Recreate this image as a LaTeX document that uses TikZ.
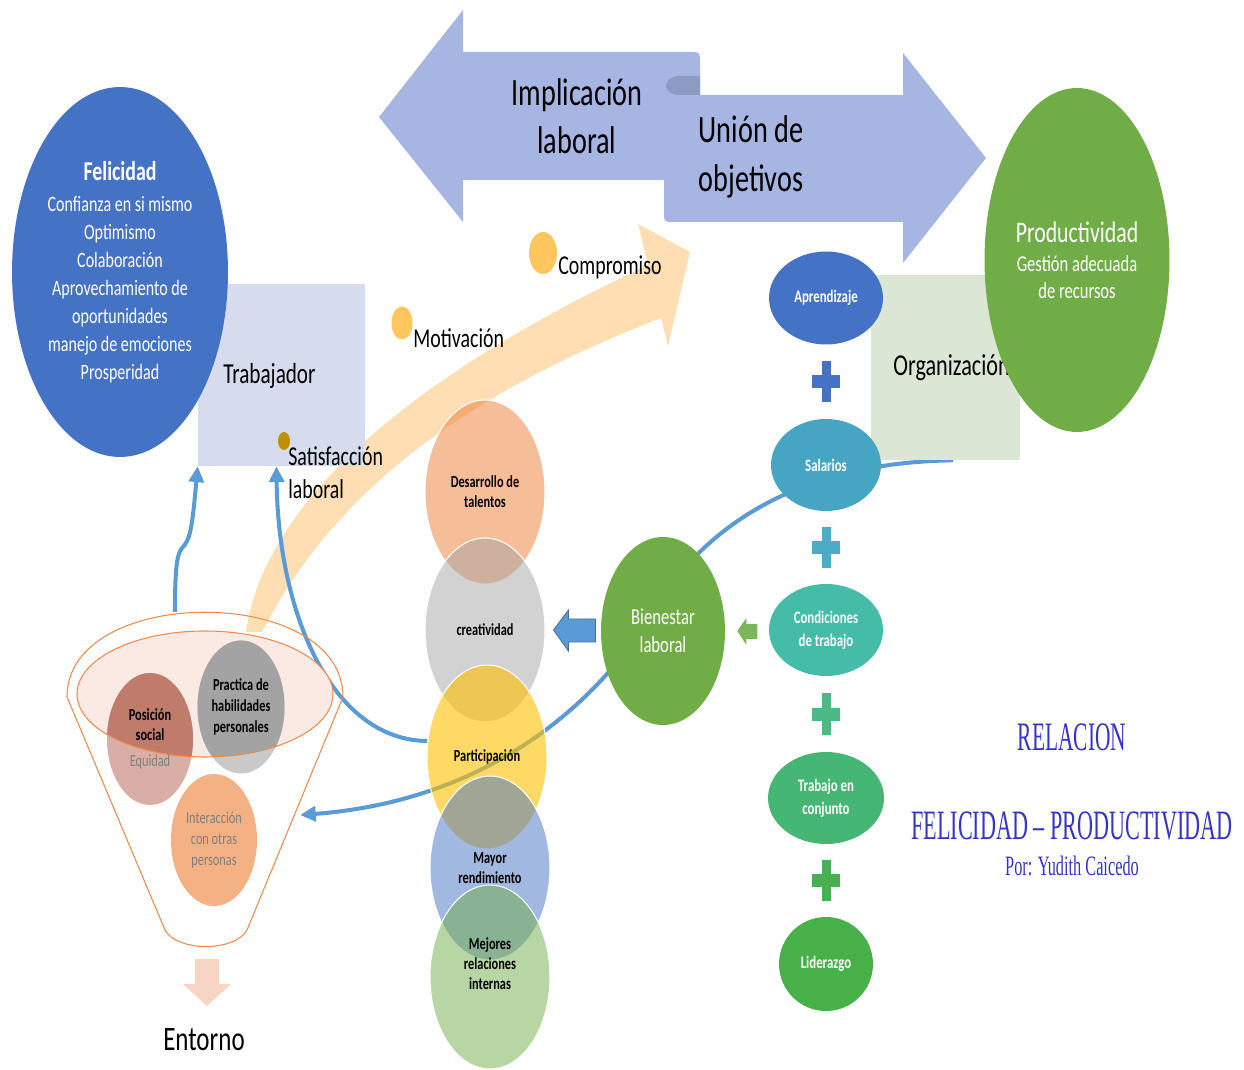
\documentclass[tikz,border=0pt]{standalone}
\usepackage{fontspec}
\setmainfont{Carlito}[FakeStretch=0.73]
\newfontfamily\titlefont{Liberation Serif}[FakeStretch=0.53]
\newfontfamily\porfont{Liberation Serif}[FakeStretch=0.58]
\usetikzlibrary{shapes.geometric,arrows.meta,calc,backgrounds}

\definecolor{arrowBlue}{HTML}{A6B5E1}
\definecolor{curlBlue}{HTML}{8C9AC4}
\definecolor{feliBlue}{HTML}{4472C4}
\definecolor{trabBox}{HTML}{D6DBED}
\definecolor{orgaBox}{HTML}{DCE6D5}
\definecolor{prodGreen}{HTML}{70AD47}
\definecolor{bandPeach}{HTML}{FEDEB2}
\definecolor{dotOrange}{HTML}{FFC65E}
\definecolor{dotGold}{HTML}{BF9000}
\definecolor{lineBlue}{HTML}{5B9BD5}
\definecolor{lineBlueDark}{HTML}{41719C}
\definecolor{funnelOrange}{HTML}{F08A4B}
\definecolor{funnelPeach}{HTML}{FBEAE3}
\definecolor{posLight}{HTML}{D9AEA6}
\definecolor{posDark}{HTML}{C17B6B}
\definecolor{praLight}{HTML}{C9C9C9}
\definecolor{praDark}{HTML}{A3A3A3}
\definecolor{interOrange}{HTML}{F4B183}
\definecolor{entornoPeach}{HTML}{F8D4C4}
\definecolor{accOrange}{HTML}{ED7D31}
\definecolor{accGray}{HTML}{A5A5A5}
\definecolor{accGold}{HTML}{FFC000}
\definecolor{accGreen}{HTML}{70AD47}
\definecolor{bienArrow}{HTML}{7CB65B}
\definecolor{salBlue}{HTML}{46A5C3}
\definecolor{condTeal}{HTML}{44BCA8}
\definecolor{conjGreen}{HTML}{45B674}
\definecolor{liderGreen}{HTML}{47B048}
\definecolor{plusTeal}{HTML}{49ADC7}
\definecolor{plusMint}{HTML}{4AB986}
\definecolor{plusGreen}{HTML}{48B050}
\definecolor{titleBlue}{HTML}{3434C8}
\definecolor{grayText}{HTML}{7F7F7F}

\begin{document}
\begin{tikzpicture}[x=0.02cm, y=-0.02cm,
    bubbleStyle/.style={ellipse, inner sep=0pt, align=center},
    boxStyle/.style={rectangle, inner sep=0pt},
    stackStyle/.style={bubbleStyle, draw=white, line width=0.6pt, fill opacity=0.5, text opacity=1, minimum width=2.4cm, minimum height=3.68cm, font=\bfseries\fontsize{9.6}{11.4}\selectfont},
    chainStyle/.style={bubbleStyle, text=white, font=\bfseries\fontsize{10}{13}\selectfont},
    funnelText/.style={bubbleStyle, font=\fontsize{9.6}{11.8}\selectfont},
    funnelLine/.style={draw=funnelOrange, line width=0.6pt},
    linkStyle/.style={draw=lineBlue, line width=2.3pt, -{Triangle[length=9pt,width=8.5pt]}},
    dotStyle/.style={ellipse, inner sep=0pt},
    bigText/.style={align=center, font=\fontsize{22}{27.5}\selectfont},
    lblText/.style={inner sep=0pt, align=left, font=\fontsize{15.5}{18.7}\selectfont},
    titleStyle/.style={text=titleBlue, font=\titlefont\fontsize{23}{27}\selectfont}]
    \useasboundingbox (0,0) rectangle (1244,1070);

    \node[boxStyle, fill=trabBox, minimum width=3.34cm, minimum height=3.64cm] (trab) at (281.5,375) {};
    \node[lblText, anchor=west, font=\fontsize{16.5}{19}\selectfont] (trabText) at (223,376) {Trabajador};
    \node[bubbleStyle, fill=feliBlue, text=white, minimum width=4.32cm, minimum height=7.4cm, font=\fontsize{12.5}{15.9}\selectfont] (feli) at (120,272)
        {{\bfseries\fontsize{15.5}{18}\selectfont Felicidad}\\[2pt]Confianza en si mismo\\Optimismo\\Colaboración\\Aprovechamiento de\\oportunidades\\manejo de emociones\\Prosperidad};

    \fill[arrowBlue] (379,117) -- (463,10) -- (463,52) -- (690,52) .. controls (700,52) .. (700,62) -- (700,95) -- (903,95) -- (903,53) -- (986,158)
        -- (903,263) -- (903,222) -- (674,222) .. controls (664,222) .. (664,212) -- (664,180) -- (463,180) -- (463,222) -- cycle;
    \fill[curlBlue] (700,76) -- (678,76) .. controls (662,78) and (662,94) .. (678,95) -- (700,95) -- cycle;
    \node[bigText] (impl) at (577,116) {Implicación\\laboral};
    \node[bigText] (union) at (751,157) {Unión de\\objetivos};

    \node[dotStyle, fill=dotOrange, minimum width=0.56cm, minimum height=0.84cm] (dComp) at (543,253) {};
    \node[dotStyle, fill=dotOrange, minimum width=0.42cm, minimum height=0.66cm] (dMoti) at (402,323) {};
    \node[dotStyle, fill=dotGold, minimum width=0.24cm, minimum height=0.36cm] (dSati) at (284,441) {};
    \node[lblText, anchor=west] (lComp) at (558,267) {Compromiso};
    \node[lblText, anchor=west] (lMoti) at (413,338) {Motivación};
    \node[lblText, anchor=west] (lSati) at (288,473) {Satisfacción\\laboral};

    \fill[funnelPeach] (205,694) ellipse [x radius=128, y radius=63];
    \fill[posLight] (150,739) ellipse [x radius=43, y radius=66];
    \fill[praLight] (241,707) ellipse [x radius=43.5, y radius=66.5];
    \begin{scope}
        \clip (205,694) ellipse [x radius=128, y radius=63];
        \fill[posDark] (150,739) ellipse [x radius=43, y radius=66];
        \fill[praDark] (241,707) ellipse [x radius=43.5, y radius=66.5];
    \end{scope}
    \draw[funnelLine] (205,694) ellipse [x radius=128, y radius=63];
    \draw[funnelLine] (67,697) .. controls (67,584) and (343,584) .. (343,697) -- (247,930) .. controls (235,952) and (177,952) .. (165,930) -- cycle;
    \coordinate (fnlTop) at (175,612);
    \coordinate (fnlRight) at (300,815);
    \node[funnelText, minimum width=1.72cm, minimum height=2.64cm, fill=interOrange, text=grayText] (inter) at (214,840) {Interacción\\con otras\\personas};
    \node[funnelText, minimum width=1.72cm, minimum height=2.64cm] (posic) at (150,739) {\textbf{Posición}\\\textbf{social}\\[3pt]\textcolor{grayText}{Equidad}};
    \node[funnelText, minimum width=1.74cm, minimum height=2.66cm, font=\bfseries\fontsize{9.6}{11.8}\selectfont] (pract) at (241,707) {Practica de\\habilidades\\personales};

    \fill[entornoPeach] (195,959) -- (219,959) -- (219,984) -- (231,984) -- (207,1006) -- (183,984) -- (195,984) -- cycle;
    \node[font=\fontsize{19.5}{23}\selectfont] (entorno) at (204,1040) {Entorno};

    \node[stackStyle, fill=accOrange] (desa) at (485,492) {Desarrollo de\\talentos};
    \node[stackStyle, fill=accGray] (crea) at (485,630) {creatividad};
    \node[stackStyle, fill=accGold, fill opacity=0.6] (part) at (487,757) {Participación};
    \node[stackStyle, fill=feliBlue] (mayor) at (490,868) {Mayor\\rendimiento};
    \node[stackStyle, fill=accGreen] (mejor) at (490,977) {Mejores\\relaciones\\internas\\\strut};

    \node[bubbleStyle, fill=prodGreen, text=white, minimum width=2.48cm, minimum height=3.76cm, font=\fontsize{13}{15.9}\selectfont] (bien) at (663,631) {Bienestar\\laboral};
    \coordinate (blueTip) at ($(crea.east)+(8,0)$);
    \filldraw[fill=lineBlue, draw=lineBlueDark, line width=0.5pt] (blueTip) -- ++(15,-20) -- ++(0,9) -- ++(27,0) -- ++(0,23) -- ++(-27,0) -- ++(0,9) -- cycle;
    \coordinate (greenTip) at ($(bien.east)+(12,0)$);
    \fill[bienArrow] (greenTip) -- ++(9,-13) -- ++(0,6) -- ++(11,0) -- ++(0,15) -- ++(-11,0) -- ++(0,6) -- cycle;

    \node[boxStyle, fill=orgaBox, minimum width=2.98cm, minimum height=3.7cm] (orga) at (945.5,367.5) {};
    \node[lblText, anchor=west, font=\fontsize{17.3}{20}\selectfont] (orgaText) at (893,368) {Organización};
    \node[bubbleStyle, fill=prodGreen, text=white, minimum width=3.7cm, minimum height=6.88cm, font=\fontsize{12.9}{15.3}\selectfont] (prod) at (1077,260)
        {{\fontsize{17}{20}\selectfont Productividad}\\[1pt]Gestión adecuada\\de recursos};

    \node[chainStyle, fill=feliBlue, minimum width=2.28cm, minimum height=1.86cm] (apren) at (826,298) {Aprendizaje};
    \node[chainStyle, fill=salBlue, minimum width=2.2cm, minimum height=1.84cm] (salar) at (826,465) {Salarios};
    \node[chainStyle, fill=condTeal, minimum width=2.28cm, minimum height=1.84cm] (condi) at (826,630) {Condiciones\\de trabajo};
    \node[chainStyle, fill=conjGreen, minimum width=2.32cm, minimum height=1.84cm] (conj) at (826,798) {Trabajo en\\conjunto};
    \node[chainStyle, fill=liderGreen, minimum width=1.88cm, minimum height=1.88cm] (lider) at (826,964) {Liderazgo};
    \foreach \a/\b/\c in {apren/salar/feliBlue, salar/condi/plusTeal, condi/conj/plusMint, conj/lider/plusGreen}{
        \coordinate (m) at ($(\a.south)!0.5!(\b.north)$);
        \fill[\c] (m) ++(-14,-6.5) rectangle ++(28,13);
        \fill[\c] (m) ++(-4.5,-20.5) rectangle ++(9,41);
    }

    \node[titleStyle] (rel) at (1072,737) {RELACION};
    \node[titleStyle, font=\titlefont\fontsize{23.8}{27}\selectfont] (felProd) at (1072,826) {FELICIDAD – PRODUCTIVIDAD};
    \node[text=titleBlue, font=\porfont\fontsize{16}{19}\selectfont] (autor) at (1072,866) {Por: Yudith Caicedo};

    \begin{scope}[on background layer]
        \fill[bandPeach] (246,632) .. controls (260,530) and (360,400) .. (648,265) -- (638,224) -- (690,252) -- (668,346) -- (661,318)
            .. controls (450,400) and (330,500) .. (262,632) -- cycle;
        \draw[linkStyle] (fnlTop) .. controls (175,575) and (176,555) .. (182,548) .. controls (190,540) and (192,530) .. (trab.south west);
        \draw[linkStyle] (part.165) .. controls (330,740) and (278,610) .. ($(trab.south west)!0.47!(trab.south east)$);
        \draw[linkStyle] ($(orga.south west)!0.55!(orga.south east)$) .. controls (820,462) and (720,510) .. (660,600)
            .. controls (610,690) and (500,800) .. (fnlRight);
    \end{scope}
\end{tikzpicture}
\end{document}
